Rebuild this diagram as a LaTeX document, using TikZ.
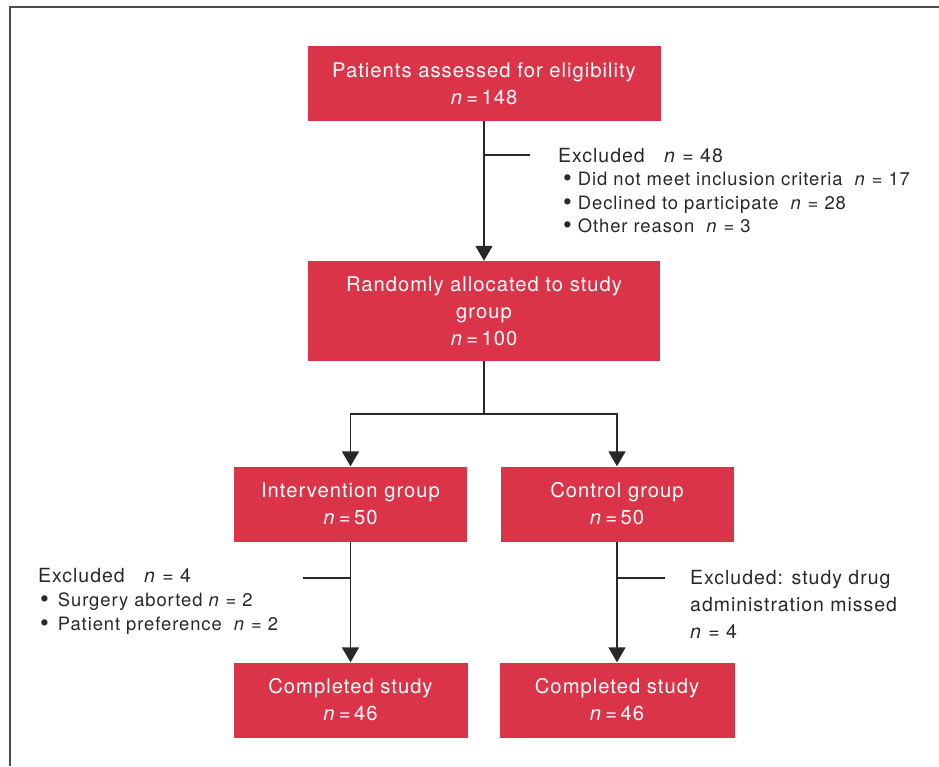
\documentclass[tikz,border=0pt]{standalone}
\usepackage{fontspec}
\setmainfont{TeX Gyre Heros}[LetterSpace=5]
\usetikzlibrary{arrows.meta}

\definecolor{boxred}{RGB}{219,52,72}
\definecolor{inkgrey}{RGB}{40,40,40}
\newcommand{\nn}[1]{\textit{n}\,=\,#1}
\newcommand{\nsp}[1]{\textit{n} = #1}
\newcommand{\bigdot}{\smash{\raisebox{-1.2pt}{\fontsize{25}{0}\selectfont\textbullet}}}
\newcommand{\headline}{\fontsize{19.5}{23.5}\selectfont}

\begin{document}
\begin{tikzpicture}[x=1pt,y=-1pt,
	font=\fontsize{19.5}{27}\selectfont,
	redbox/.style={fill=boxred,text=white,align=center,inner sep=0pt,font=\fontsize{20.2}{27}\selectfont},
	note/.style={text=inkgrey,align=left,inner sep=0pt,anchor=west},
	lines/.style={draw=inkgrey,line width=1.8pt},
	arr/.style={-{Triangle[width=17pt,length=15pt]}}]
	\useasboundingbox (0,0) rectangle (939,766);
	\draw[line width=1.6pt,black!70] (10,766) -- (10,7) -- (939,7);

	\node[redbox,minimum width=353pt,minimum height=75pt] (assess) at (484,83.5) {Patients assessed for eligibility\\\nn{148}};
	\node[redbox,minimum width=352pt,minimum height=100pt] (random) at (484,311) {Randomly allocated to study\\group\\\nn{100}};
	\node[redbox,minimum width=233pt,minimum height=75pt] (intv) at (350.5,504) {Intervention group\\\nn{50}};
	\node[redbox,minimum width=233pt,minimum height=75pt] (ctrl) at (617,504) {Control group\\\nn{50}};
	\node[redbox,minimum width=234pt,minimum height=75pt] (done1) at (350.5,700) {Completed study\\\nn{46}};
	\node[redbox,minimum width=235pt,minimum height=75pt] (done2) at (617,700) {Completed study\\\nn{46}};

	\node[note,font=\fontsize{18.4}{23.5}\selectfont] (excl1) at (558,190.5) {{\headline Excluded\quad\nsp{48}}\\
		\hspace*{5pt}\bigdot\hspace{6pt}Did not meet inclusion criteria\ \ \nsp{17}\\
		\hspace*{5pt}\bigdot\hspace{6pt}Declined to participate\ \ \nsp{28}\\
		\hspace*{5pt}\bigdot\hspace{6pt}Other reason\ \ \nsp{3}};
	\node[note,font=\fontsize{18.4}{24}\selectfont] (excl2) at (38,601) {{\headline Excluded\quad\nsp{4}}\\
		\hspace*{2pt}\bigdot\hspace{9pt}Surgery aborted \nsp{2}\\
		\hspace*{2pt}\bigdot\hspace{9pt}Patient preference\ \ \nsp{2}};
	\node[note] (excl3) at (690,604) {Excluded: study drug\\administration missed\\\nsp{4}};

	\coordinate (cut1) at (530,155);
	\coordinate (cut2) at (303,578);
	\coordinate (cut3) at (665,578);
	\coordinate (split) at (484,414);

	\draw[lines,arr] (assess) -- (random);
	\draw[lines] (cut1) -- (cut1 -| assess.south);
	\draw[lines] (random) -- (split);
	\draw[lines,arr] (split) -| (intv);
	\draw[lines,arr] (split) -| (ctrl);
	\draw[lines,arr] (intv) -- (done1);
	\draw[lines] (cut2) -- (cut2 -| intv.south);
	\draw[lines,arr] (ctrl) -- (done2);
	\draw[lines] (cut3) -- (cut3 -| ctrl.south);
\end{tikzpicture}
\end{document}
